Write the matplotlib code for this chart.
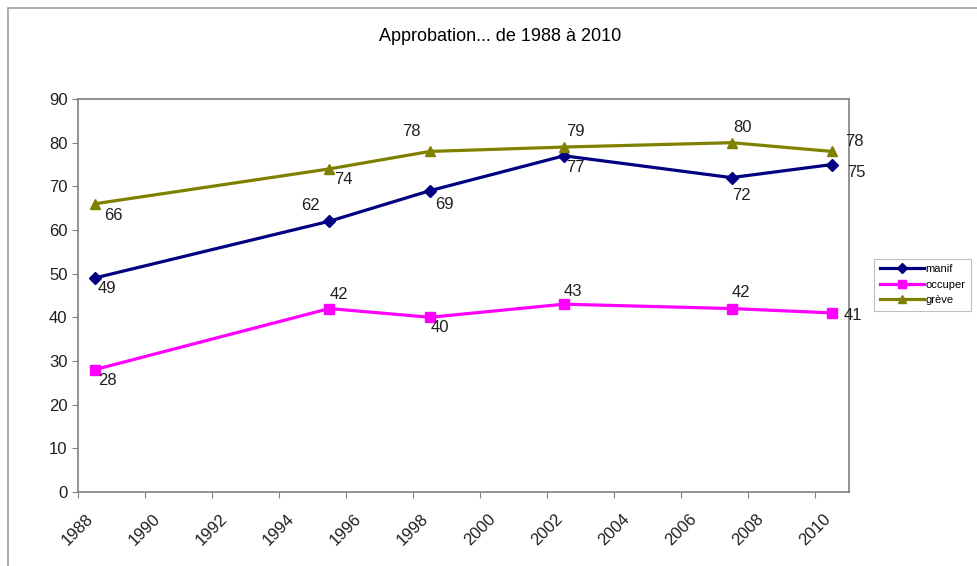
import matplotlib.pyplot as plt
from matplotlib.patches import Rectangle

plt.rcParams['font.family'] = ['Liberation Sans', 'DejaVu Sans']

years = [1988.5, 1995.5, 1998.5, 2002.5, 2007.5, 2010.5]
manif = [49, 62, 69, 77, 72, 75]
occuper = [28, 42, 40, 43, 42, 41]
greve = [66, 74, 78, 79, 80, 78]
xticks = list(range(1988, 2011, 2))

# label offsets in pixels (left edge, vertical centre) per series
off_manif = [(3, -11), (-28, 16), (5, -14), (2, -12), (1, -18), (15, -8)]
off_occuper = [(3, -11), (0, 14), (1, -10), (0, 13), (0, 16), (12, -3)]
off_greve = [(9, -12), (5, -11), (-28, 20), (2, 16), (2, 15), (13, 10)]

fig = plt.figure(figsize=(9.77, 5.66), dpi=100)
fig.patches.append(Rectangle((8 / 977, -0.01), 1, 1 - 8 / 566 + 0.01, transform=fig.transFigure,
                             fill=False, edgecolor='#a0a0a0', linewidth=1.2))
ax = fig.add_axes([0.0798, 0.131, 0.789, 0.694])

series = [
    ('manif', manif, '#000080', 'D', 6, off_manif),
    ('occuper', occuper, '#ff00ff', 's', 7, off_occuper),
    ('grève', greve, '#808000', '^', 7, off_greve),
]
for name, vals, col, mk, ms, offs in series:
    ax.plot(years, vals, color=col, marker=mk, markersize=ms, linewidth=2.3, label=name)
    for x, y, o in zip(years, vals, offs):
        ax.annotate(str(y), (x, y), xytext=o, textcoords='offset pixels',
                    fontsize=12, color='#202020', va='center', ha='left')

ax.set_xlim(1988, 2011)
ax.set_ylim(0, 90)
ax.set_yticks(range(0, 91, 10))
ax.set_xticks(xticks)
ax.set_xticklabels([str(t) for t in xticks], rotation=45, ha='center', va='top')
ax.tick_params(labelsize=12, colors='#808080', labelcolor='#202020', length=4)
ax.tick_params(axis='x', pad=10)
for s in ax.spines.values():
    s.set_color('#808080')
    s.set_linewidth(1.2)

fig.text(0.512, 0.935, 'Approbation... de 1988 à 2010', ha='center', va='center', fontsize=13)

leg = fig.legend(loc='center left', bbox_to_anchor=(0.889, 0.497), fontsize=8, frameon=True,
                 fancybox=False, edgecolor='#b0b0b0', handlelength=4, handletextpad=0.1,
                 borderpad=0.5, labelspacing=0.5, markerscale=0.8)
leg.get_frame().set_linewidth(0.8)

fig.savefig('out.png', dpi=100)
